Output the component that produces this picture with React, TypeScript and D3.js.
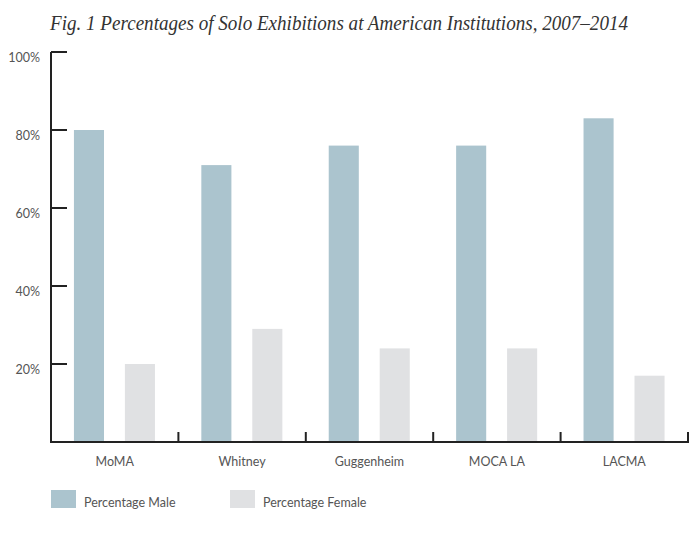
import React, { useEffect, useRef } from "react";
import * as d3 from "d3";

const categories = ["MoMA", "Whitney", "Guggenheim", "MOCA LA", "LACMA"];
const maleValues = [80, 71, 76, 76, 83];
const femaleValues = [20, 29, 24, 24, 17];
const yTicks = [20, 40, 60, 80, 100];
const seriesNames = ["Percentage Male", "Percentage Female"];
const colors = ["#abc4ce", "#e0e1e3"];
const title = "Fig. 1 Percentages of Solo Exhibitions at American Institutions, 2007–2014";

export default function App() {
  const ref = useRef<SVGSVGElement>(null);
  useEffect(() => {
    const svg = d3.select(ref.current);
    svg.selectAll("*").remove();
    const W = 700, H = 534;
    const x0 = 51, x1 = 688, yTop = 52, yBot = 442;
    const x = d3.scaleBand().domain(categories).range([x0, x1]).paddingInner(0).paddingOuter(0);
    const y = d3.scaleLinear().domain([0, 100]).range([yBot, yTop]);
    const textColor = "#555";
    const font = "Lato, 'Noto Sans', sans-serif";

    svg.append("rect").attr("width", W).attr("height", H).attr("fill", "#fff");

    svg.append("text").attr("x", 50).attr("y", 30)
      .attr("font-family", "'Liberation Serif', serif").attr("font-style", "italic")
      .attr("font-size", 21).attr("fill", "#333")
      .attr("textLength", 578).attr("lengthAdjust", "spacingAndGlyphs")
      .text(title);

    const bw = x.bandwidth();
    const g = svg.append("g");
    categories.forEach((c, i) => {
      const bx = x(c)!;
      const barW = bw * 0.236;
      g.append("rect").attr("x", bx + bw * 0.18).attr("y", y(maleValues[i]))
        .attr("width", barW).attr("height", yBot - y(maleValues[i])).attr("fill", colors[0]);
      g.append("rect").attr("x", bx + bw * 0.58).attr("y", y(femaleValues[i]))
        .attr("width", barW).attr("height", yBot - y(femaleValues[i])).attr("fill", colors[1]);
      g.append("text").attr("x", bx + bw / 2).attr("y", 466).attr("text-anchor", "middle")
        .attr("font-family", font).attr("font-size", 12.5).attr("fill", textColor).text(c);
    });

    const axisColor = "#222";
    svg.append("line").attr("x1", x0).attr("x2", x0).attr("y1", yTop).attr("y2", yBot)
      .attr("stroke", axisColor).attr("stroke-width", 2);
    svg.append("line").attr("x1", x0 - 1).attr("x2", x1 + 1).attr("y1", yBot).attr("y2", yBot)
      .attr("stroke", axisColor).attr("stroke-width", 2);
    yTicks.forEach((t) => {
      svg.append("line").attr("x1", x0).attr("x2", x0 + 16).attr("y1", y(t)).attr("y2", y(t))
        .attr("stroke", axisColor).attr("stroke-width", 2);
      svg.append("text").attr("x", 40).attr("y", y(t) + 10).attr("text-anchor", "end")
        .attr("font-family", font).attr("font-size", 12.5).attr("fill", textColor).text(`${t}%`);
    });
    const bounds = [...categories.map((c) => x(c)!), x1];
    bounds.forEach((b) => {
      svg.append("line").attr("x1", b).attr("x2", b).attr("y1", yBot).attr("y2", yBot - 10)
        .attr("stroke", axisColor).attr("stroke-width", 2);
    });

    const legendX = [51, 230];
    seriesNames.forEach((s, i) => {
      svg.append("rect").attr("x", legendX[i]).attr("y", 490).attr("width", 25).attr("height", 18)
        .attr("fill", colors[i]);
      svg.append("text").attr("x", legendX[i] + 33).attr("y", 507)
        .attr("font-family", font).attr("font-size", 12.5).attr("fill", textColor).text(s);
    });
  }, []);
  return (
    <svg ref={ref} width={700} height={534} style={{ display: "block", position: "absolute", left: 0, top: 0 }} />
  );
}
